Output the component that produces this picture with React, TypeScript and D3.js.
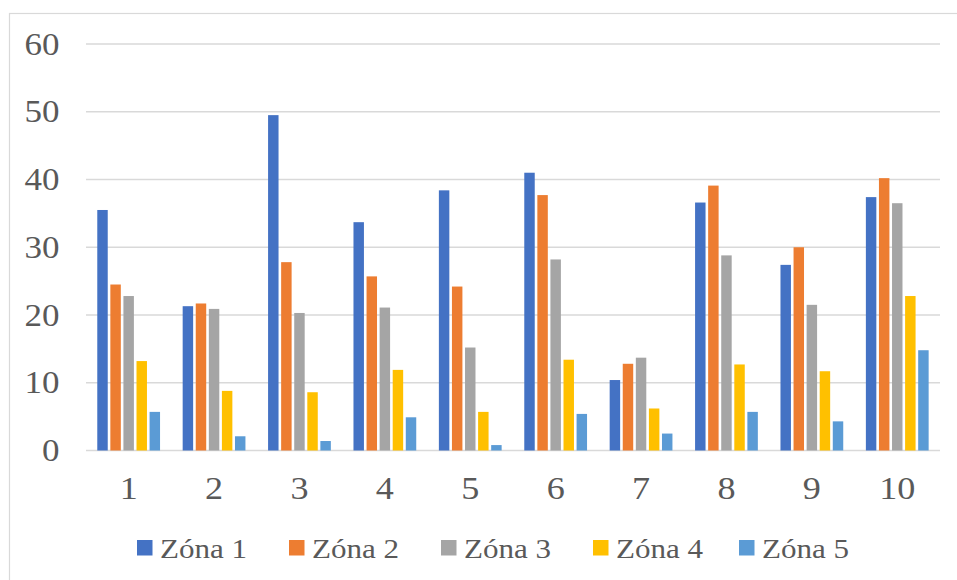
import React, { useEffect, useState } from "react";
import * as d3 from "d3";

const categories = ["1", "2", "3", "4", "5", "6", "7", "8", "9", "10"];
const seriesNames = ["Zóna 1", "Zóna 2", "Zóna 3", "Zóna 4", "Zóna 5"];
const seriesColors = ["#4472C4", "#ED7D31", "#A5A5A5", "#FFC000", "#5B9BD5"];
const zona1 = [35.5, 21.3, 49.5, 33.7, 38.4, 41.0, 10.4, 36.6, 27.4, 37.4];
const zona2 = [24.5, 21.7, 27.8, 25.7, 24.2, 37.7, 12.8, 39.1, 30.0, 40.2];
const zona3 = [22.8, 20.9, 20.3, 21.1, 15.2, 28.2, 13.7, 28.8, 21.5, 36.5];
const zona4 = [13.2, 8.8, 8.6, 11.9, 5.7, 13.4, 6.2, 12.7, 11.7, 22.8];
const zona5 = [5.7, 2.1, 1.4, 4.9, 0.8, 5.4, 2.5, 5.7, 4.3, 14.8];
const yTicks = [0, 10, 20, 30, 40, 50, 60];

const seriesValues = [zona1, zona2, zona3, zona4, zona5];

const FONT = '"Liberation Serif", "Times New Roman", Tinos, Times';
const SX = 1.13;

export default function App() {
  const [tick, setTick] = useState(0);
  useEffect(() => {
    const f: any = (document as any).fonts;
    if (f && f.ready) f.ready.then(() => setTick(1));
    const id = setTimeout(() => setTick(2), 50);
    return () => clearTimeout(id);
  }, []);

  const W = 957;
  const H = 580;
  const plotLeft = 86;
  const plotRight = 940;
  const plotTop = 44;
  const plotBottom = 450.5;

  const x = d3.scaleBand<string>().domain(categories).range([plotLeft, plotRight]).padding(0);
  const bw = x.bandwidth();
  const xs = d3
    .scaleBand<string>()
    .domain(seriesNames)
    .range([bw * 0.132, bw * 0.867])
    .paddingInner(0.2)
    .paddingOuter(0);
  const y = d3.scaleLinear().domain([0, 60]).range([plotBottom, plotTop]);

  const textColor = "#595959";
  const legendX = [137, 289, 441, 593, 739];

  return (
    <svg
      key={tick}
      width={W}
      height={H}
      fontFamily={FONT}
      style={{ position: "absolute", left: 0, top: 0, fontFamily: FONT }}
    >
      <style>{`text { font-family: "Liberation Serif", "Times New Roman", Tinos, Times; }`}</style>
      <rect x={0} y={0} width={W} height={H} fill="#ffffff" />
      <rect x={9.5} y={13.5} width={W + 10} height={H + 10} fill="none" stroke="#d9d9d9" strokeWidth={1.2} />
      {yTicks.map((t) => (
        <g key={t}>
          <line x1={plotLeft} x2={plotRight} y1={y(t)} y2={y(t)} stroke="#d9d9d9" strokeWidth={1.4} />
          <g transform={`translate(59.5,${y(t) + 10.5}) scale(${SX},1)`}>
            <text x={0} y={0} textAnchor="end" fontSize={31} fill={textColor} style={{ fontFamily: FONT }}>
              {t}
            </text>
          </g>
        </g>
      ))}
      {categories.map((c, ci) => (
        <g key={c} transform={`translate(${x(c)},0)`}>
          {seriesNames.map((s, si) => {
            const v = seriesValues[si][ci];
            return (
              <rect
                key={s}
                x={xs(s)}
                y={y(v)}
                width={xs.bandwidth()}
                height={y(0) - y(v)}
                fill={seriesColors[si]}
              />
            );
          })}
          <g transform={`translate(${bw / 2},499) scale(${SX},1)`}>
            <text x={0} y={0} textAnchor="middle" fontSize={32} fill={textColor} style={{ fontFamily: FONT }}>
              {c}
            </text>
          </g>
        </g>
      ))}
      {seriesNames.map((s, si) => (
        <g key={s} transform={`translate(${legendX[si]},540)`}>
          <rect x={0} y={0} width={15.5} height={15.5} fill={seriesColors[si]} />
          <g transform={`translate(23,17.5) scale(${SX},1)`}>
            <text x={0} y={0} fontSize={27.5} fill={textColor} style={{ fontFamily: FONT }}>
              {s}
            </text>
          </g>
        </g>
      ))}
    </svg>
  );
}
